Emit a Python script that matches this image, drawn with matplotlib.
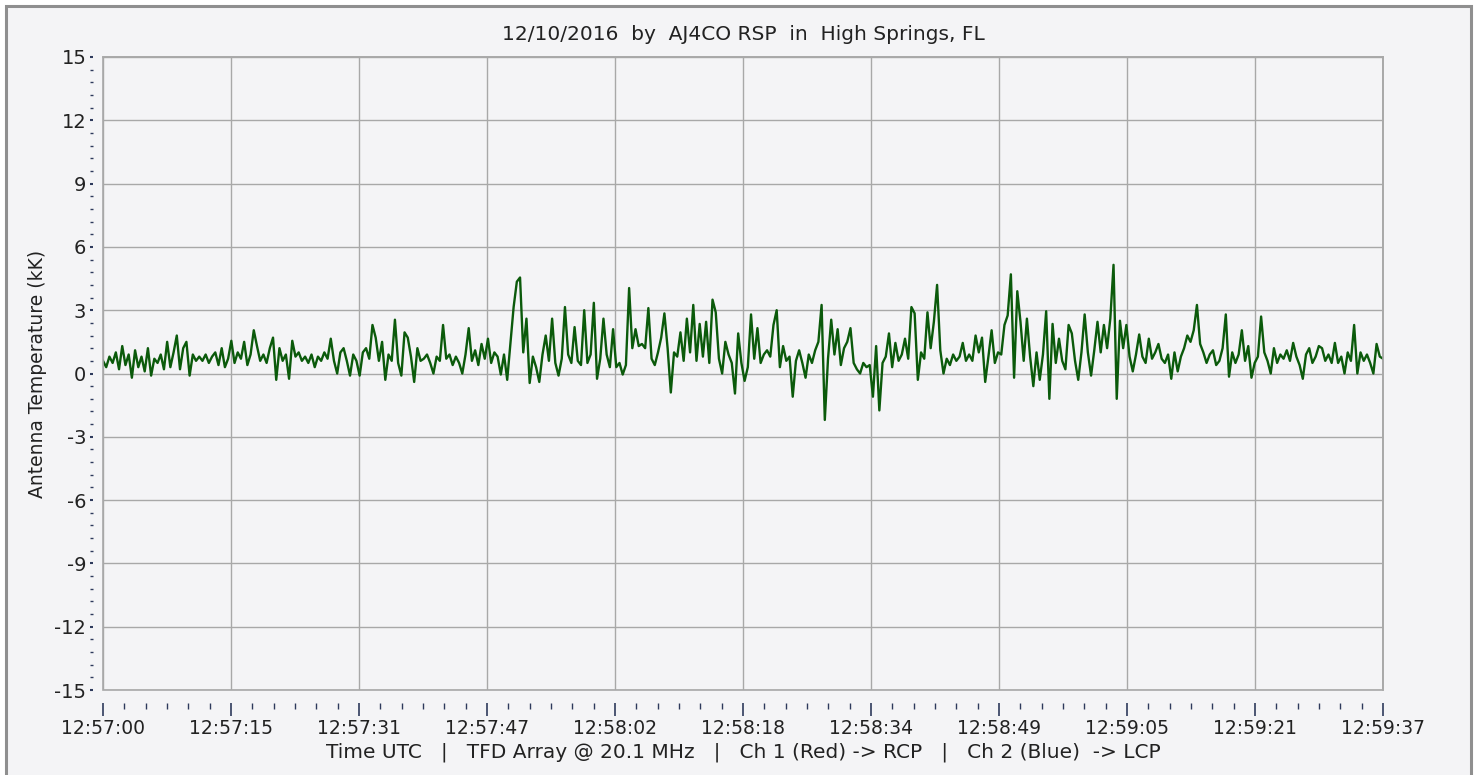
"""Antenna temperature strip chart, AJ4CO RSP, 12/10/2016."""
import matplotlib
matplotlib.use("Agg")
import matplotlib.pyplot as plt
import matplotlib.patches as patches
from matplotlib.ticker import MultipleLocator, FuncFormatter
import numpy as np

BG     = "#F4F4F6"
FRAME  = "#8F8F8F"
GRID   = "#A8A8A8"
INK    = "#222222"
TICK   = "#2E3A5C"
GREEN  = "#0B5A0B"

# seconds after 12:57:00 UTC
T_START = 0.0
T_END   = 157.0
MAJOR_STEP = 15.7

TITLE  = "12/10/2016  by  AJ4CO RSP  in  High Springs, FL"
YLABEL = "Antenna Temperature (kK)"
XLABEL = "Time UTC   |   TFD Array @ 20.1 MHz   |   Ch 1 (Red) -> RCP   |   Ch 2 (Blue)  -> LCP"

# antenna temperature (kK) in four stretches
seg1 = [0.6, 0.3, 0.8, 0.5, 1.0, 0.2, 1.3, 0.4, 0.9, -0.2,
        1.1, 0.3, 0.8, 0.1, 1.2, -0.1, 0.7, 0.5, 0.9, 0.2,
        1.5, 0.3, 1.0, 1.8, 0.2, 1.2, 1.5, -0.1, 0.9, 0.6,
        0.8, 0.6, 0.9, 0.5, 0.8, 1.0, 0.4, 1.2, 0.3, 0.7,
        1.55, 0.5, 1.0, 0.7, 1.5, 0.4, 0.9, 2.05, 1.3, 0.6,
        0.9, 0.5, 1.2, 1.7, -0.3, 1.2, 0.6, 0.9, -0.25, 1.55,
        0.8, 1.0, 0.6, 0.8, 0.5, 0.9, 0.3, 0.8, 0.6, 1.0,
        0.7, 1.65, 0.6, 0.0, 1.0, 1.2, 0.6, -0.1, 0.9, 0.6,
        -0.1, 1.0, 1.2, 0.7, 2.3, 1.7, 0.6, 1.5, -0.3, 0.9,
        0.6, 2.55, 0.5, -0.1, 1.95, 1.7, 0.8, -0.4, 1.2, 0.6]
seg2 = [0.7, 0.9, 0.5, 0.0, 0.8, 0.6, 2.3, 0.7, 0.9, 0.4,
        0.8, 0.5, 0.0, 0.9, 2.15, 0.6, 1.1, 0.4, 1.4, 0.7,
        1.65, 0.5, 1.0, 0.8, -0.05, 0.9, -0.3, 1.4, 3.15, 4.35,
        4.55, 1.0, 2.6, -0.45, 0.8, 0.3, -0.4, 0.9, 1.8, 0.6,
        2.6, 0.5, -0.1, 0.7, 3.15, 0.9, 0.5, 2.2, 0.6, 0.4,
        3.0, 0.5, 0.9, 3.35, -0.25, 0.7, 2.6, 0.9, 0.3, 2.1,
        0.3, 0.5, -0.05, 0.4, 4.05, 1.2, 2.1, 1.3, 1.4, 1.2,
        3.1, 0.7, 0.4, 1.0, 1.7, 2.85, 1.2, -0.9, 1.0, 0.8,
        1.95, 0.6, 2.6, 1.0, 3.25, 0.6, 2.35, 0.8, 2.45, 0.5,
        3.5, 2.9, 0.7, 0.0, 1.5, 0.9, 0.5, -0.95, 1.9, 0.5]
seg3 = [-0.35, 0.3, 2.8, 0.7, 2.15, 0.5, 0.9, 1.1, 0.8, 2.3,
        3.0, 0.3, 1.3, 0.6, 0.8, -1.1, 0.6, 1.1, 0.5, -0.2,
        0.9, 0.5, 1.1, 1.5, 3.25, -2.2, 0.7, 2.55, 0.9, 2.1,
        0.4, 1.2, 1.5, 2.15, 0.5, 0.2, 0.0, 0.5, 0.3, 0.4,
        -1.1, 1.3, -1.75, 0.5, 0.8, 1.9, 0.3, 1.45, 0.6, 0.9,
        1.65, 0.7, 3.15, 2.85, -0.3, 1.0, 0.7, 2.9, 1.2, 2.45,
        4.2, 1.1, 0.0, 0.7, 0.4, 0.9, 0.6, 0.8, 1.45, 0.6,
        0.9, 0.6, 1.8, 1.0, 1.7, -0.4, 0.8, 2.05, 0.5, 1.0,
        0.9, 2.3, 2.75, 4.7, -0.2, 3.9, 2.45, 0.6, 2.6, 0.8,
        -0.6, 1.0, -0.3, 0.9, 2.95, -1.2, 2.35, 0.5, 1.65, 0.6]
seg4 = [0.2, 2.3, 1.9, 0.6, -0.3, 1.0, 2.8, 1.0, -0.1, 1.1,
        2.45, 1.0, 2.3, 1.2, 2.6, 5.15, -1.2, 2.5, 1.2, 2.3,
        0.8, 0.1, 0.9, 1.85, 0.8, 0.5, 1.65, 0.7, 1.0, 1.4,
        0.7, 0.5, 0.9, -0.25, 1.0, 0.1, 0.8, 1.2, 1.8, 1.5,
        2.05, 3.25, 1.4, 1.0, 0.5, 0.9, 1.1, 0.4, 0.6, 1.2,
        2.8, -0.15, 1.0, 0.5, 0.9, 2.05, 0.6, 1.3, -0.2, 0.5,
        0.8, 2.7, 1.0, 0.6, 0.0, 1.2, 0.5, 0.9, 0.7, 1.1,
        0.6, 1.45, 0.8, 0.4, -0.25, 0.9, 1.2, 0.5, 0.8, 1.3,
        1.2, 0.6, 0.9, 0.5, 1.45, 0.5, 0.8, 0.0, 1.0, 0.6,
        2.3, 0.0, 1.0, 0.6, 0.9, 0.5, 0.0, 1.4, 0.8, 0.7]

temp_kk = np.array(seg1 + seg2 + seg3 + seg4)
t_sec = np.linspace(T_START, T_END, len(temp_kk))

plt.rcParams.update({"font.family": "DejaVu Sans"})


def hms(x, pos=None):
    s = int(x + 1e-6)
    return f"12:{57 + s // 60:02d}:{s % 60:02d}"


fig = plt.figure(figsize=(14.77, 7.75), dpi=100, facecolor="white")
# panel background with grey border (left, top, right)
fig.patches.append(patches.Rectangle((6 / 1477, -0.05), 1465 / 1477, 1.05 - 6 / 775,
                                     transform=fig.transFigure, facecolor=BG,
                                     edgecolor=FRAME, linewidth=2.2, zorder=-10))

ax = fig.add_axes([103 / 1477, 1 - 690 / 775, 1280 / 1477, 633 / 775])
ax.set_zorder(5)
ax.set_facecolor(BG)
ax.plot(t_sec, temp_kk, color=GREEN, lw=1.7, zorder=3)

ax.set_xlim(T_START, T_END)
ax.set_ylim(-15, 15)
ax.xaxis.set_major_locator(MultipleLocator(MAJOR_STEP))
ax.xaxis.set_minor_locator(MultipleLocator(MAJOR_STEP / 6))
ax.xaxis.set_major_formatter(FuncFormatter(hms))
ax.yaxis.set_major_locator(MultipleLocator(3))
ax.yaxis.set_minor_locator(MultipleLocator(0.6))
ax.yaxis.set_major_formatter(FuncFormatter(lambda v, p: f"{v:.0f}"))

ax.grid(which="major", color=GRID, lw=1.0)
ax.set_axisbelow(True)
for sp in ax.spines.values():
    sp.set_color(GRID); sp.set_linewidth(1.2)
# ticks sit a little outside the frame
ax.spines["bottom"].set_position(("outward", 9))
ax.spines["left"].set_position(("outward", 7))
ax.spines["bottom"].set_color("none")
ax.spines["left"].set_color("none")
ax.add_patch(patches.Rectangle((0, 0), 1, 1, transform=ax.transAxes, fill=False,
                               edgecolor=GRID, lw=1.2, zorder=4, clip_on=False))

ax.tick_params(axis="x", which="major", length=9, width=1.2, color=TICK,
               labelsize=13.5, labelcolor=INK, pad=3)
ax.tick_params(axis="x", which="minor", length=4, width=1.0, color=TICK)
ax.tick_params(axis="y", which="major", length=2, width=1.5, color=TICK,
               labelsize=14, labelcolor=INK, pad=3)
ax.tick_params(axis="y", which="minor", length=2, width=1.0, color=TICK)

ax.set_title(TITLE, fontsize=14.5, color=INK, pad=12)
ax.set_ylabel(YLABEL, fontsize=13.5, color=INK, labelpad=5)
ax.set_xlabel(XLABEL, fontsize=14.5, color=INK, labelpad=3)

plt.savefig("out.png", dpi=100, facecolor="white")
plt.close()
